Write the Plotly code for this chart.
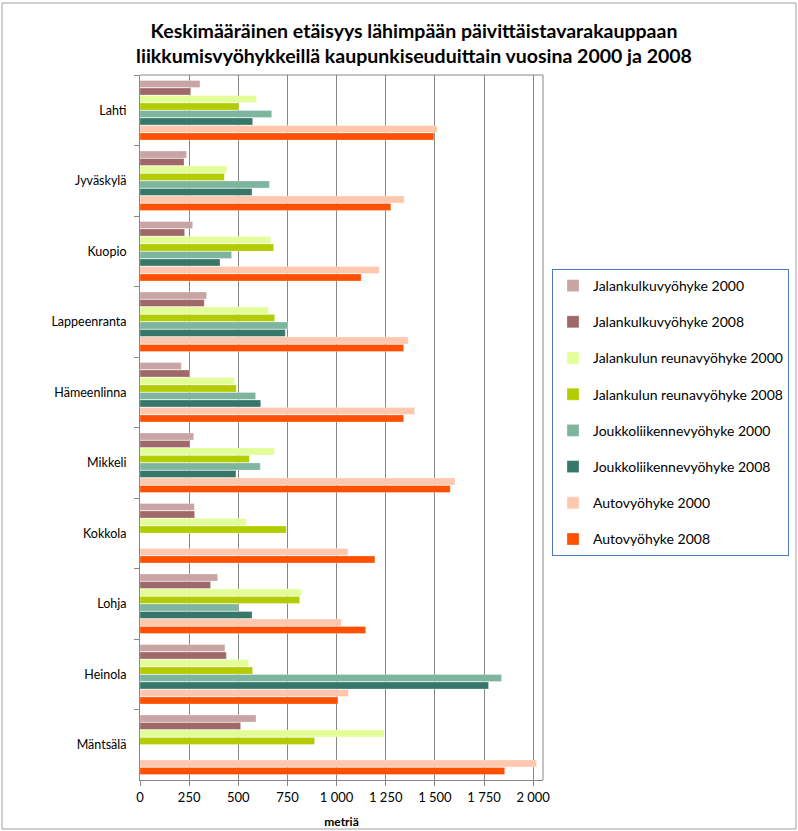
import plotly.graph_objects as go

# Urban regions (top to bottom)
cities = ["Lahti", "Jyväskylä", "Kuopio", "Lappeenranta", "Hämeenlinna",
          "Mikkeli", "Kokkola", "Lohja", "Heinola", "Mäntsälä"]

# Mean distance (m) to the nearest grocery store by mobility zone
jalankulku_2000 = [305, 237, 268, 339, 210, 273, 276, 395, 432, 590]
jalankulku_2008 = [258, 224, 227, 327, 251, 254, 278, 359, 439, 512]
reuna_2000 = [593, 441, 664, 654, 480, 683, 541, 819, 551, 1242]
reuna_2008 = [502, 429, 680, 685, 490, 556, 744, 812, 573, 888]
joukko_2000 = [670, 658, 466, 751, 588, 612, None, 500, 1839, None]
joukko_2008 = [573, 570, 407, 739, 614, 488, None, 570, 1773, None]
auto_2000 = [1512, 1344, 1217, 1364, 1397, 1602, 1058, 1024, 1060, 2017]
auto_2008 = [1495, 1276, 1125, 1341, 1341, 1578, 1195, 1148, 1007, 1855]

series = [
    ("Jalankulkuvyöhyke 2000", jalankulku_2000, "#C9A4A4"),
    ("Jalankulkuvyöhyke 2008", jalankulku_2008, "#A06868"),
    ("Jalankulun reunavyöhyke 2000", reuna_2000, "#E3FE99"),
    ("Jalankulun reunavyöhyke 2008", reuna_2008, "#B2CC00"),
    ("Joukkoliikennevyöhyke 2000", joukko_2000, "#7DB59E"),
    ("Joukkoliikennevyöhyke 2008", joukko_2008, "#36776A"),
    ("Autovyöhyke 2000", auto_2000, "#FFC8AE"),
    ("Autovyöhyke 2008", auto_2008, "#FF5000"),
]

x_ticks = [0, 250, 500, 750, 1000, 1250, 1500, 1750, 2000]

FONT = "Lato, Carlito, Calibri, sans-serif"

W, H = 798, 831
ML, MR, MT, MB = 140, 255, 75, 51

fig = go.Figure()
for i, (name, vals, col) in enumerate(series):
    fig.add_trace(go.Bar(
        y=cities, x=vals, name=name, orientation="h",
        marker=dict(color=col, line=dict(color="rgba(255,255,255,0.6)", width=0.5)),
        legendgroup=f"g{i}",
    ))

pw = W - ML - MR
ph = H - MT - MB

fig.update_layout(
    width=W, height=H,
    margin=dict(l=ML, r=MR, t=MT, b=MB, autoexpand=False),
    paper_bgcolor="white", plot_bgcolor="white",
    barmode="group", bargap=0.15, bargroupgap=0.05,
    separators=", ",
    font=dict(family=FONT, size=12, color="#000000"),
    title=dict(
        text="<b>Keskimääräinen etäisyys lähimpään päivittäistavarakauppaan<br>"
             "liikkumisvyöhykkeillä kaupunkiseuduittain vuosina 2000 ja 2008</b>",
        x=414 / W, xanchor="center", y=1 - 38 / H, yanchor="top",
        font=dict(family=FONT, size=19.5, color="#000000"),
    ),
    xaxis=dict(
        range=[0, 2050], tickvals=x_ticks, separatethousands=True,
        showgrid=True, gridcolor="#878787", gridwidth=1,
        showline=True, linecolor="#878787", linewidth=1,
        ticks="outside", ticklen=5, tickcolor="#878787",
        zeroline=False, mirror=False,
        tickfont=dict(size=13),
        title=dict(text="<b>metriä</b>", font=dict(size=12), standoff=14),
    ),
    yaxis=dict(
        autorange="reversed", type="category",
        showline=True, linecolor="#878787", linewidth=1,
        ticks="outside", ticklen=5, tickcolor="#878787", tickson="boundaries",
        showgrid=False, tickfont=dict(size=12.5), ticklabelstandoff=10,
    ),
    legend=dict(
        x=(789 - ML) / pw, y=(H - MB - 269) / ph, xanchor="right", yanchor="top",
        bordercolor="#4A7EBB", borderwidth=1, bgcolor="white",
        font=dict(size=14), tracegroupgap=15,
        itemwidth=30,
    ),
    shapes=[
        # plot-area frame (top and right edges)
        dict(type="line", xref="paper", yref="paper", x0=0, x1=1, y0=1, y1=1,
             line=dict(color="#878787", width=1)),
        dict(type="line", xref="paper", yref="paper", x0=1, x1=1, y0=0, y1=1,
             line=dict(color="#878787", width=1)),
        # outer chart border
        dict(type="rect", xref="paper", yref="paper",
             x0=(2 - ML) / pw, x1=(796 - ML) / pw,
             y0=(H - MB - 829) / ph, y1=(H - MB - 3) / ph,
             line=dict(color="#A0A0A0", width=1), layer="below"),
    ],
)

fig.write_html("out.html")
